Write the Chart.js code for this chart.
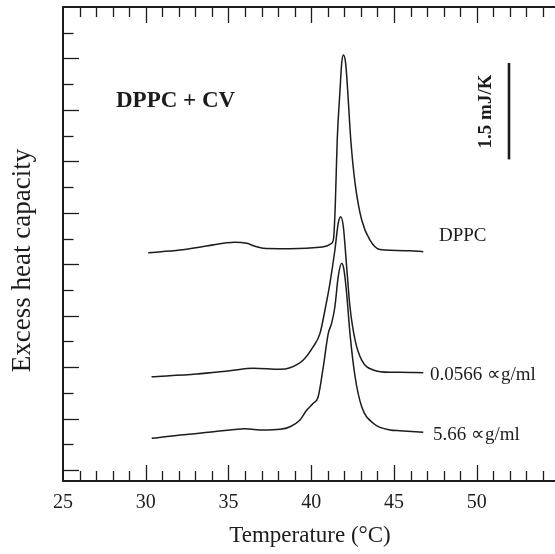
<!DOCTYPE html>
<html><head><meta charset="utf-8">
<script src="https://cdn.jsdelivr.net/npm/chart.js@4/dist/chart.umd.min.js"></script>
<style>html,body{margin:0;padding:0;background:#fff}#wrap{width:555px;height:554px;position:relative}</style>
</head><body><div id="wrap"><canvas id="c" width="555" height="554"></canvas></div>
<script>
// ---- data (temperature in °C, excess heat capacity in mJ/K, offset curves) ----
const dppcTemp = [30.15,32.07,33.68,35.39,36.10,36.60,37.10,38.11,40.12,40.93,41.23,41.35,41.45,41.57,41.74,41.84,41.94,42.08,42.20,42.39,42.65,43.05,43.55,44.15,45.97,46.77];
const dppcCp   = [3.379,3.421,3.483,3.541,3.525,3.480,3.447,3.441,3.457,3.483,3.525,3.600,4.094,5.132,5.909,6.324,6.453,6.324,5.909,5.132,4.458,3.887,3.576,3.430,3.410,3.394];

const lowTemp = [30.35,33.08,35.09,36.50,38.11,38.72,39.52,40.12,40.53,40.83,41.13,41.43,41.63,41.78,41.94,42.14,42.34,42.65,43.05,43.75,44.76,45.36,46.77];
const lowCp   = [1.450,1.493,1.544,1.581,1.565,1.590,1.710,1.917,2.125,2.488,2.903,3.421,3.836,3.939,3.783,3.161,2.539,2.021,1.710,1.555,1.519,1.520,1.513];

const highTemp = [30.36,32.07,34.08,35.09,36.00,37.10,38.11,38.72,39.32,39.73,40.12,40.42,40.73,41.03,41.23,41.43,41.63,41.84,41.98,42.14,42.34,42.65,43.05,43.75,44.76,45.36,46.77];
const highCp   = [0.492,0.544,0.595,0.621,0.642,0.621,0.632,0.673,0.777,0.932,1.037,1.140,1.606,2.125,2.281,2.539,3.006,3.214,3.110,2.747,2.125,1.450,0.984,0.726,0.622,0.611,0.586];

const curveNames = ['DPPC','0.0566 ∝g/ml','5.66 ∝g/ml'];
const xTickLabels = ['25','30','35','40','45','50'];
const xMajorTicks = [25,30,35,40,45,50];
const xRange = [25,54.73];
const yRange = [-0.171,7.2];
const yTickStep = 0.4;
const scaleBarTemp = 51.95;
const scaleBarBase = 4.83;
const scaleBarSize = 1.5;
const scaleBarLabel = '1.5 mJ/K';
const plotTitle = 'DPPC + CV';
const xTitle = 'Temperature (°C)';
const yTitle = 'Excess heat capacity';

const pts = (xs, ys) => xs.map((x, i) => ({x, y: ys[i]}));
const INK = '#1c1c1c';
const SERIF = '"Liberation Serif", "Times New Roman", serif';

const lineDs = (label, data) => ({
  label, data, borderColor: INK, borderWidth: 1.5, pointRadius: 0,
  fill: false, tension: 0.4, cubicInterpolationMode: 'monotone'
});

const framePlugin = {
  id: 'frame',
  afterDraw(chart) {
    const ctx = chart.ctx, a = chart.chartArea;
    const xs = chart.scales.x, ys = chart.scales.y;
    ctx.save();
    ctx.strokeStyle = INK;
    // frame (left, top, bottom)
    ctx.lineWidth = 2;
    ctx.beginPath();
    ctx.moveTo(a.right, a.top); ctx.lineTo(a.left, a.top); ctx.lineTo(a.left, a.bottom); ctx.lineTo(a.right, a.bottom);
    ctx.stroke();
    // x ticks (top and bottom, inward)
    ctx.lineWidth = 1.3;
    for (let v = xRange[0] + 1; v < xRange[1]; v++) {
      const px = Math.round(xs.getPixelForValue(v)) + 0.5;
      const len = xMajorTicks.includes(v) || v % 5 === 0 ? 16 : 10;
      ctx.beginPath();
      ctx.moveTo(px, a.top); ctx.lineTo(px, a.top + len);
      ctx.moveTo(px, a.bottom); ctx.lineTo(px, a.bottom - len);
      ctx.stroke();
    }
    // y ticks (left, inward)
    const nY = Math.round(yRange[1] / yTickStep);
    for (let k = 0; k < nY; k++) {
      const py = Math.round(ys.getPixelForValue(k * yTickStep)) + 0.5;
      const len = k % 2 === 0 ? 16 : 10.5;
      ctx.beginPath(); ctx.moveTo(a.left, py); ctx.lineTo(a.left + len, py); ctx.stroke();
    }
    // scale bar
    ctx.lineWidth = 2.6;
    const bx = xs.getPixelForValue(scaleBarTemp);
    ctx.beginPath();
    ctx.moveTo(bx, ys.getPixelForValue(scaleBarBase));
    ctx.lineTo(bx, ys.getPixelForValue(scaleBarBase + scaleBarSize));
    ctx.stroke();

    ctx.fillStyle = INK;
    // tick labels
    ctx.font = '20px ' + SERIF;
    ctx.textAlign = 'center'; ctx.textBaseline = 'alphabetic';
    xMajorTicks.forEach((v, i) => ctx.fillText(xTickLabels[i], xs.getPixelForValue(v), a.bottom + 27));
    // axis titles
    ctx.font = '23px ' + SERIF;
    ctx.fillText(xTitle, 310, 542);
    ctx.save();
    ctx.translate(30, 260.5); ctx.rotate(-Math.PI / 2);
    ctx.font = '27px ' + SERIF;
    ctx.fillText(yTitle, 0, 0);
    ctx.restore();
    // scale bar label
    ctx.save();
    ctx.translate(491, 111.5); ctx.rotate(-Math.PI / 2);
    ctx.font = 'bold 19px ' + SERIF;
    ctx.fillText(scaleBarLabel, 0, 0);
    ctx.restore();
    // plot title
    ctx.textAlign = 'left';
    ctx.font = 'bold 23px ' + SERIF;
    ctx.fillText(plotTitle, 116, 107);
    // curve labels
    ctx.font = '19px ' + SERIF;
    ctx.fillText(curveNames[0], 439, 241);
    ctx.fillText(curveNames[1], 430, 380);
    ctx.fillText(curveNames[2], 433, 440);
    ctx.restore();
  }
};

new Chart(document.getElementById('c'), {
  type: 'line',
  data: {
    datasets: [
      lineDs(curveNames[0], pts(dppcTemp, dppcCp)),
      lineDs(curveNames[1], pts(lowTemp, lowCp)),
      lineDs(curveNames[2], pts(highTemp, highCp))
    ]
  },
  options: {
    responsive: false, animation: false, devicePixelRatio: 1,
    layout: { padding: { left: 63, top: 7, right: 0, bottom: 73 } },
    plugins: { legend: { display: false }, tooltip: { enabled: false } },
    scales: {
      x: { type: 'linear', min: xRange[0], max: xRange[1], display: false },
      y: { type: 'linear', min: yRange[0], max: yRange[1], display: false }
    }
  },
  plugins: [framePlugin]
});
</script></body></html>
